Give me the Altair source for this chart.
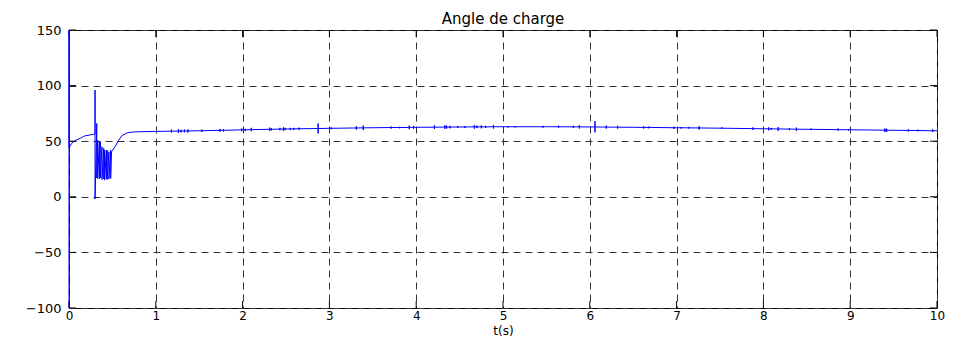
import altair as alt
import pandas as pd

# ---- data ----
base_t = [0.0, 0.0, 0.0, 0.03, 0.07, 0.13, 0.18, 0.24, 0.28, 0.30, 0.30, 0.30,
          0.32, 0.32, 0.33, 0.33, 0.35, 0.35, 0.36, 0.36, 0.38, 0.38, 0.40, 0.40,
          0.41, 0.41, 0.43, 0.43, 0.44, 0.44, 0.46, 0.46, 0.48, 0.48,
          0.49, 0.53, 0.57, 0.61, 0.67, 0.74, 0.85,
          1.0, 1.5, 2.0, 2.5, 3.0, 3.5, 4.0, 4.5, 5.0, 5.5, 6.0, 6.5, 7.0, 7.5,
          8.0, 8.5, 9.0, 9.5, 10.0]
base_v = [-100, 150, 44, 48, 50.5, 52.6, 54.7, 55.6, 56.2, 56.5, 96, -2,
          66, 17, 51, 16.5, 50, 16, 49.5, 17, 45, 15.5, 43.6, 16,
          42, 15, 42, 16, 42, 15.5, 40.5, 16, 42, 16.5,
          40.5, 45, 50.6, 55, 57.5, 58.3, 58.6,
          58.8, 59.4, 60.2, 61.0, 61.6, 62.1, 62.5, 62.8, 63.0, 63.0, 62.8, 62.5, 62.1, 61.7,
          61.2, 60.7, 60.3, 59.8, 59.4]

spike_t = [1.18, 1.26, 1.29, 1.33, 1.37, 1.53, 1.74, 1.78, 1.99, 2.03, 2.10, 2.31,
           2.33, 2.43, 2.47, 2.49, 2.55, 2.59, 2.65, 2.87, 3.02, 3.31, 3.39, 3.71,
           3.81, 3.92, 3.97, 4.21, 4.33, 4.35, 4.39, 4.48, 4.56, 4.67, 4.70, 4.75,
           4.80, 4.89, 5.06, 5.14, 5.46, 5.64, 5.81, 5.88, 6.06, 6.19, 6.32, 6.62,
           6.68, 6.97, 7.05, 7.14, 7.26, 7.52, 7.88, 8.06, 8.09, 8.17, 8.30, 8.38,
           8.55, 8.86, 8.98, 9.40, 9.42, 9.67, 9.78, 9.95]
spike_v = [59.0, 59.1, 59.1, 59.2, 59.2, 59.4, 59.8, 59.8, 60.2, 60.2, 60.4, 60.7,
           60.7, 60.9, 60.9, 61.0, 61.0, 61.1, 61.2, 61.4, 61.6, 61.9, 62.0, 62.3,
           62.3, 62.4, 62.5, 62.6, 62.7, 62.7, 62.7, 62.8, 62.8, 62.9, 62.9, 62.9,
           62.9, 63.0, 63.0, 63.0, 63.0, 63.0, 62.9, 62.9, 62.8, 62.7, 62.6, 62.4,
           62.4, 62.1, 62.1, 62.0, 61.9, 61.7, 61.3, 61.1, 61.1, 61.0, 60.9, 60.8,
           60.7, 60.4, 60.3, 59.9, 59.9, 59.7, 59.6, 59.4]
spike_hi = [60.4, 60.6, 60.3, 60.4, 60.6, 60.4, 61.0, 60.8, 61.4, 61.2, 62.0, 62.2,
            61.9, 62.0, 62.4, 62.0, 62.0, 62.0, 62.2, 66.0, 62.4, 63.4, 64.0, 63.2,
            63.0, 64.0, 63.7, 64.2, 64.2, 64.0, 63.8, 63.6, 63.6, 64.6, 64.0, 64.2,
            63.8, 64.6, 63.6, 63.6, 63.8, 64.0, 63.8, 64.4, 68.0, 64.0, 63.8, 63.4,
            63.2, 63.0, 62.8, 62.8, 63.4, 62.4, 62.4, 62.4, 62.0, 62.6, 61.8, 62.2,
            61.4, 61.4, 61.0, 61.4, 61.2, 60.6, 60.4, 60.6]
spike_lo = [57.8, 57.6, 58.0, 58.0, 57.8, 58.4, 58.6, 58.8, 59.0, 59.2, 59.0, 59.2,
            59.6, 59.8, 59.4, 60.0, 60.0, 60.2, 60.2, 57.0, 60.8, 60.4, 60.0, 61.4,
            61.6, 60.8, 61.2, 61.0, 61.2, 61.4, 61.6, 62.0, 62.0, 61.2, 61.8, 61.6,
            62.0, 61.4, 62.4, 62.4, 62.2, 62.0, 62.0, 61.4, 58.0, 61.4, 61.4, 61.4,
            61.6, 61.2, 61.4, 61.4, 60.4, 61.0, 60.2, 59.8, 60.2, 59.4, 60.0, 59.4,
            60.0, 59.4, 59.6, 58.2, 58.4, 58.8, 58.8, 58.2]

x_ticks = [0, 1, 2, 3, 4, 5, 6, 7, 8, 9, 10]
y_ticks = [-100, -50, 0, 50, 100, 150]

# ---- build the line table ----
rows = [(t, v) for t, v in zip(base_t, base_v)]
for t, v, hi, lo in zip(spike_t, spike_v, spike_hi, spike_lo):
    rows += [(t, v), (t, hi), (t, lo), (t, v)]
rows.sort(key=lambda r: r[0])  # stable: keeps order of equal-t points
df = pd.DataFrame(rows, columns=["t", "v"])
df["i"] = range(len(df))

W, H = 868, 278
FONT = "DejaVu Sans"
xs = alt.Scale(domain=[0, 10], nice=False, zero=False)
ys = alt.Scale(domain=[-100, 150], nice=False, zero=False)
xaxis = alt.Axis(values=x_ticks, title="t(s)", grid=True, labelPadding=2,
                 labelFontSize=12, titleFontSize=12, titlePadding=4, labelFlush=False)
yaxis = alt.Axis(values=y_ticks, title=None, grid=True, labelPadding=8, labelFontSize=13)

line = alt.Chart(df).mark_line(color="#0000ff", strokeWidth=1, clip=False).encode(
    x=alt.X("t:Q", scale=xs, axis=xaxis),
    y=alt.Y("v:Q", scale=ys, axis=yaxis),
    order="i:Q",
)

ydf = pd.DataFrame({"v": y_ticks})
xdf = pd.DataFrame({"t": x_ticks})
tick_left = alt.Chart(ydf).mark_rule(color="black", strokeWidth=1).encode(
    y=alt.Y("v:Q", scale=ys, axis=yaxis), x=alt.value(0), x2=alt.value(7))
tick_right = alt.Chart(ydf).mark_rule(color="black", strokeWidth=1).encode(
    y=alt.Y("v:Q", scale=ys, axis=yaxis), x=alt.value(W - 7), x2=alt.value(W))
tick_bottom = alt.Chart(xdf).mark_rule(color="black", strokeWidth=1).encode(
    x=alt.X("t:Q", scale=xs, axis=xaxis), y=alt.value(H), y2=alt.value(H - 7))
tick_top = alt.Chart(xdf).mark_rule(color="black", strokeWidth=1).encode(
    x=alt.X("t:Q", scale=xs, axis=xaxis), y=alt.value(0), y2=alt.value(7))

chart = alt.layer(tick_left, tick_right, tick_bottom, tick_top, line).properties(
    width=W, height=H,
    title=alt.TitleParams("Angle de charge", font=FONT, fontSize=15,
                          fontWeight="normal", color="black", anchor="middle",
                          offset=2, dy=5),
    padding={"left": 61, "top": 22, "right": 8, "bottom": 32},
    autosize=alt.AutoSizeParams(type="none"),
    background="white",
).configure_view(
    stroke="black", strokeWidth=1
).configure_axis(
    domain=False, ticks=False, tickSize=0,
    gridColor="#333333", gridDash=[7, 5], gridWidth=1, gridOpacity=1,
    labelFont=FONT, labelColor="black",
    titleFont=FONT, titleFontWeight="normal", titleColor="black",
)

chart.save("out.html", embed_options={"renderer": "svg", "actions": False})
